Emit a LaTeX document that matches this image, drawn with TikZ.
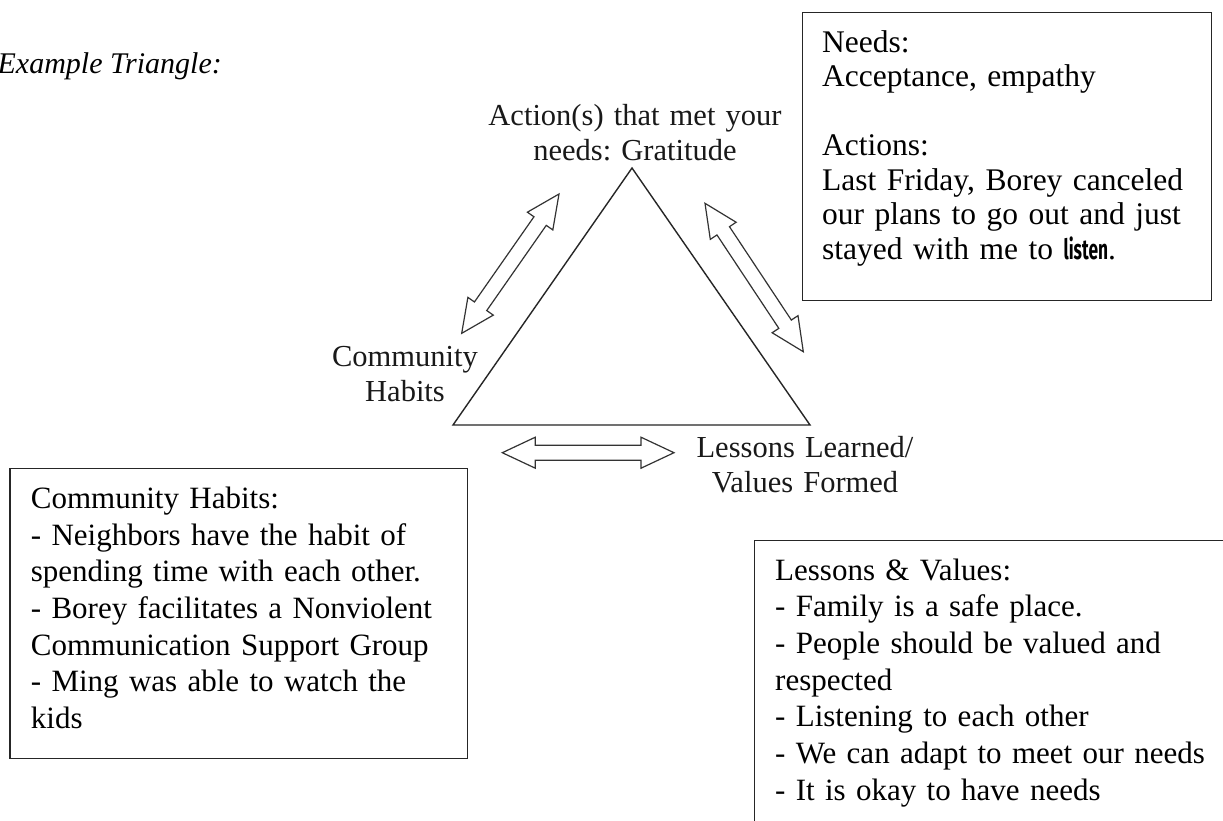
\documentclass[tikz,border=0pt]{standalone}
\usepackage{fontspec}
\usepackage{graphicx}
\setmainfont{Liberation Serif}
\newfontfamily\listenfont{Fira Sans}
\usetikzlibrary{calc}
\frenchspacing
\tikzset{
  framebox/.style={draw=black!85, line width=1.3pt, rectangle, inner sep=0pt, anchor=north west},
  boxtext/.style={anchor=base west, inner sep=0pt, align=left, text=black},
  tri/.style={draw=black!85, line width=1.4pt, line join=miter},
  hollow/.style={draw=black!80, line width=1.2pt, line join=miter, fill=white},
  trilabel/.style={anchor=base, inner sep=0pt, align=center, text width=340pt, text=black!90,
                   font=\fontsize{30.5}{35}\selectfont},
}
\newcommand{\hollowdbl}[3]{%
  \coordinate (#3h1) at ($(#1)!33pt!(#2)$);
  \coordinate (#3h2) at ($(#2)!33pt!(#1)$);
  \draw[hollow] (#1)
    -- ($(#3h1)!15.5pt!90:(#2)$) -- ($(#3h1)!7.5pt!90:(#2)$)
    -- ($(#3h2)!7.5pt!-90:(#1)$) -- ($(#3h2)!15.5pt!-90:(#1)$)
    -- (#2)
    -- ($(#3h2)!15.5pt!90:(#1)$) -- ($(#3h2)!7.5pt!90:(#1)$)
    -- ($(#3h1)!7.5pt!-90:(#2)$) -- ($(#3h1)!15.5pt!-90:(#2)$)
    -- cycle;}
\begin{document}
\frenchspacing
\begin{tikzpicture}[x=1pt, y=-1pt]
\useasboundingbox (0,0) rectangle (1223,820);
\fill[white] (0,0) rectangle (1223,820);

% title
\node[anchor=base east, inner sep=0pt, font=\fontsize{30}{34}\selectfont\itshape] (title) at (222,73) {Example Triangle:};

% triangle
\coordinate (apex) at (632,168);
\coordinate (bl) at (453,425);
\coordinate (br) at (810,425);
\draw[tri] (apex) -- (bl) -- (br) -- cycle;

% triangle labels
\node[trilabel] (toplabel) at (635,125) {Action(s) that met your\\needs: Gratitude};
\node[trilabel] (leftlabel) at (405,366.7) {Community\\Habits};
\node[trilabel] (rightlabel) at (805,457) {Lessons Learned/\\Values Formed};

% hollow double arrows
\coordinate (la1) at (461.7,333.3);
\coordinate (la2) at (559,194);
\coordinate (ra1) at (705,203.3);
\coordinate (ra2) at (803.3,351.7);
\coordinate (ba1) at (502.3,452.7);
\coordinate (ba2) at (674,452.7);
\hollowdbl{la1}{la2}{L}
\hollowdbl{ra1}{ra2}{R}
\hollowdbl{ba1}{ba2}{B}

% Needs box
\node[framebox, minimum width=409pt, minimum height=288pt] (needsbox) at (802,12) {};
\node[boxtext, text width=385pt, font=\fontsize{31.5}{34.5}\selectfont] (needstxt) at (822,52.3)
 {Needs:\\Acceptance, empathy\\[34.5pt]Actions:\\Last Friday, Borey canceled\\our plans to go out and just\\stayed with me to {\listenfont\bfseries\fontsize{28}{34.5}\selectfont\scalebox{0.62}[1]{listen}}.};

% Community Habits box
\node[framebox, minimum width=457.5pt, minimum height=290pt] (commbox) at (9.3,468) {};
\node[boxtext, text width=432pt, font=\fontsize{31}{36.7}\selectfont] (commtxt) at (30.7,508.3)
 {Community Habits:\\- Neighbors have the habit of\\spending time with each other.\\- Borey facilitates a Nonviolent\\Communication Support Group\\- Ming was able to watch the\\kids};

% Lessons box
\node[framebox, minimum width=500pt, minimum height=320pt] (lessbox) at (754,540) {};
\node[boxtext, text width=445pt, font=\fontsize{31}{36.7}\selectfont] (lesstxt) at (775,580)
 {Lessons \& Values:\\- Family is a safe place.\\- People should be valued and\\respected\\- Listening to each other\\- We can adapt to meet our needs\\- It is okay to have needs};
\end{tikzpicture}
\end{document}
